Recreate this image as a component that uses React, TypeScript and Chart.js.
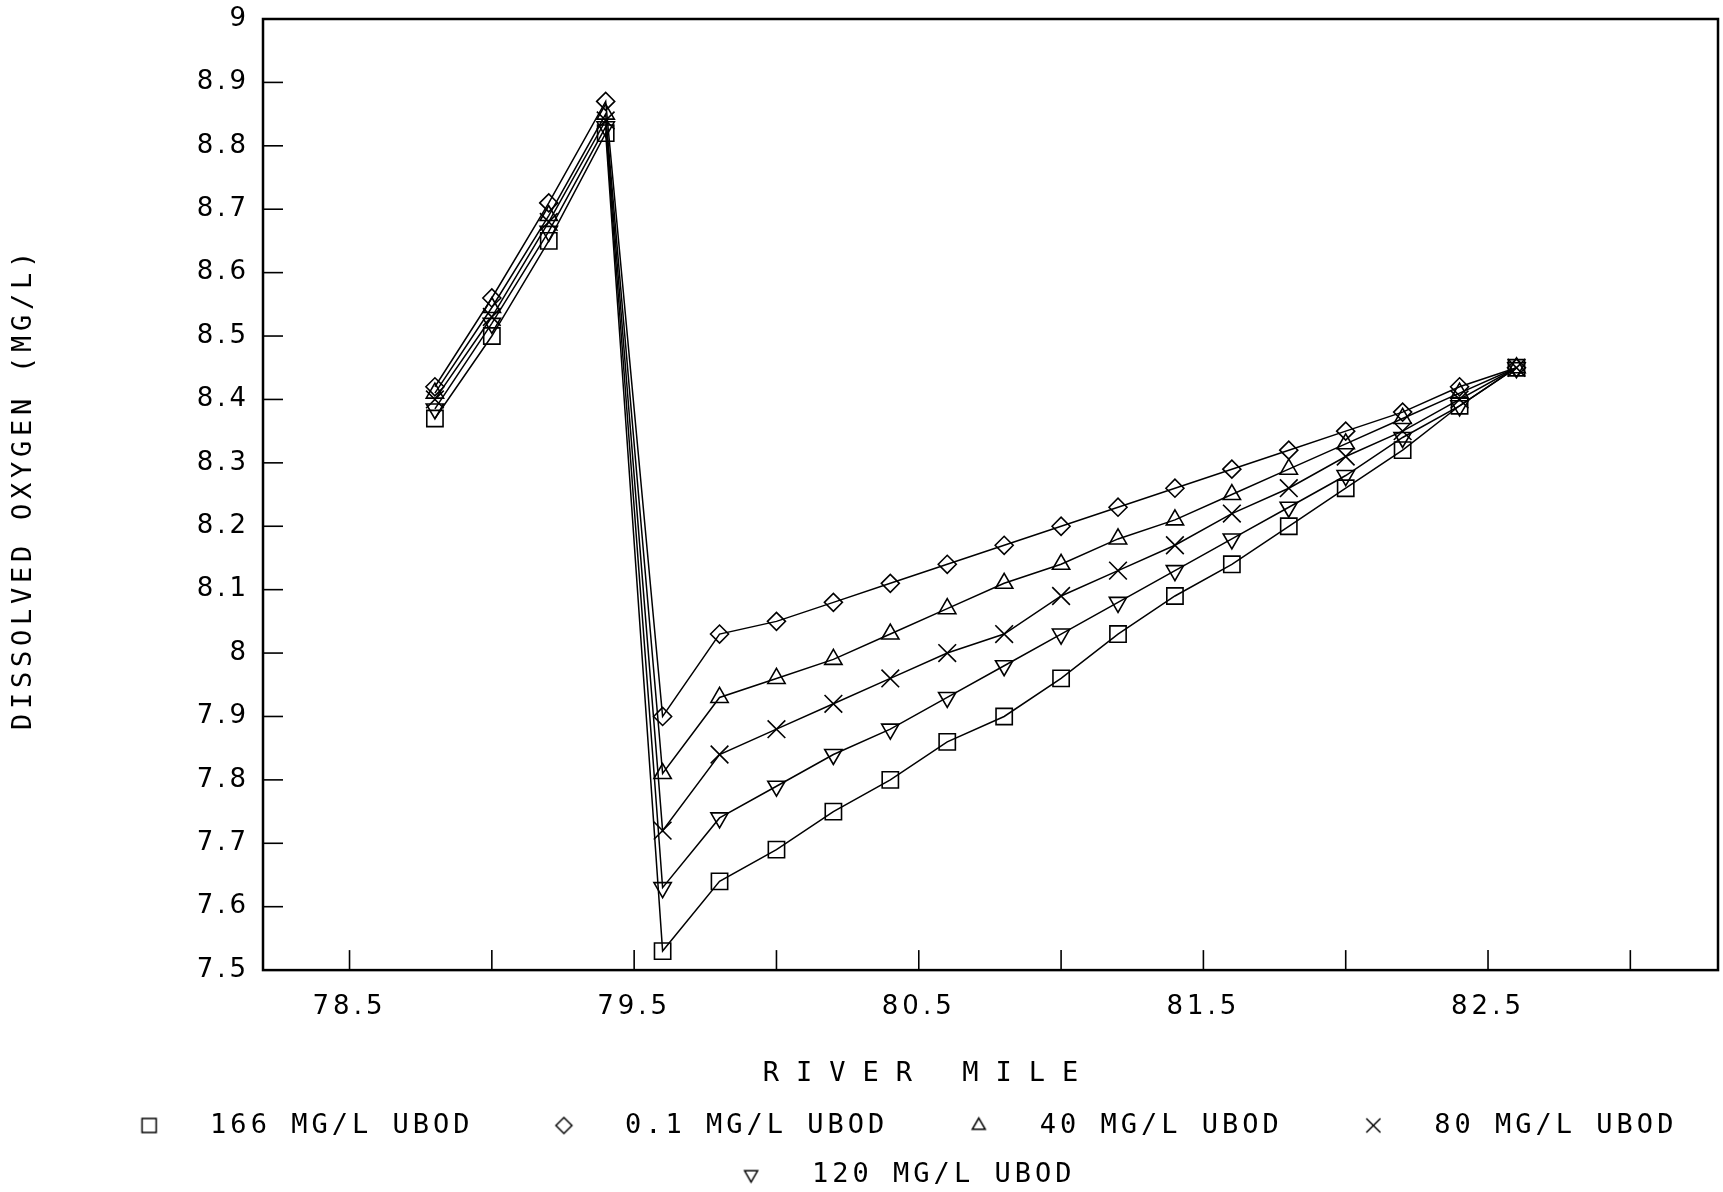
import React, { useEffect, useRef } from 'react';
import { Chart, registerables } from 'chart.js';
import { drawPoint } from 'chart.js/helpers';

Chart.register(...registerables);

// ---------------- data ----------------
const riverMile = [78.8, 79.0, 79.2, 79.4, 79.6, 79.8, 80.0, 80.2, 80.4, 80.6, 80.8, 81.0, 81.2, 81.4, 81.6, 81.8, 82.0, 82.2, 82.4, 82.6];

const do166 = [8.37, 8.50, 8.65, 8.82, 7.53, 7.64, 7.69, 7.75, 7.80, 7.86, 7.90, 7.96, 8.03, 8.09, 8.14, 8.20, 8.26, 8.32, 8.39, 8.45];
const do01 = [8.42, 8.56, 8.71, 8.87, 7.90, 8.03, 8.05, 8.08, 8.11, 8.14, 8.17, 8.20, 8.23, 8.26, 8.29, 8.32, 8.35, 8.38, 8.42, 8.45];
const do40 = [8.41, 8.545, 8.69, 8.85, 7.81, 7.93, 7.96, 7.99, 8.03, 8.07, 8.11, 8.14, 8.18, 8.21, 8.25, 8.29, 8.33, 8.37, 8.41, 8.45];
const do80 = [8.40, 8.53, 8.68, 8.84, 7.72, 7.84, 7.88, 7.92, 7.96, 8.00, 8.03, 8.09, 8.13, 8.17, 8.22, 8.26, 8.31, 8.35, 8.40, 8.45];
const do120 = [8.385, 8.52, 8.665, 8.83, 7.63, 7.74, 7.79, 7.84, 7.88, 7.93, 7.98, 8.03, 8.08, 8.13, 8.18, 8.23, 8.28, 8.34, 8.39, 8.45];

const seriesValues = [do166, do01, do40, do80, do120];
const seriesNames = ['166 MG/L UBOD', '0.1 MG/L UBOD', '40 MG/L UBOD', '80 MG/L UBOD', '120 MG/L UBOD'];

const xTitle = 'RIVER MILE';
const yTitle = 'DISSOLVED OXYGEN (MG/L)';
const xMin = 78.196;
const xMax = 83.308;
const xStep = 0.5;
const yMin = 7.5;
const yMax = 9;
const yStep = 0.1;

// ---------------- styling ----------------
const CANVAS_W = 1723;
const CANVAS_H = 1200;
const MONO = '"DejaVu Sans Mono", monospace';
const SANS = '"DejaVu Sans", sans-serif';
const INK = '#000';

const markers = [
  { style: 'rect', rotation: 0, radius: 11.5, legendRadius: 10 },
  { style: 'rectRot', rotation: 0, radius: 9, legendRadius: 8 },
  { style: 'triangle', rotation: 0, radius: 10, legendRadius: 7.5 },
  { style: 'crossRot', rotation: 0, radius: 12.5, legendRadius: 10 },
  { style: 'triangle', rotation: 180, radius: 10, legendRadius: 7.5 },
];

const LEG_BOX_W = 116;
const LEG_MARK_X = 68.5;
const LEGEND_SHIFT = 20;
const TITLE_SHIFT = 70;
const Y_TITLE_LIFT = 6;
const TICK_LEN = 20;

function makeLegendImage(m: any): HTMLCanvasElement {
  const c = document.createElement('canvas');
  c.width = LEG_BOX_W;
  c.height = 32;
  const ctx = c.getContext('2d') as CanvasRenderingContext2D;
  ctx.strokeStyle = INK;
  ctx.fillStyle = 'rgba(0,0,0,0)';
  ctx.lineWidth = 1.5;
  drawPoint(ctx, { pointStyle: m.style, rotation: m.rotation, radius: m.legendRadius, borderWidth: 1.5 } as any, LEG_MARK_X, 16);
  return c;
}

const plotterPlugin = {
  id: 'plotterLook',
  beforeUpdate(chart: any) {
    chart.ctx.letterSpacing = '4px';
  },
  beforeDraw(chart: any) {
    chart.ctx.letterSpacing = '4px';
  },
  afterLayout(chart: any) {
    const lg = chart.legend;
    if (lg) {
      lg.left += LEGEND_SHIFT;
      lg.right += LEGEND_SHIFT;
    }
    const tb = chart.titleBlock;
    if (tb) {
      tb.left += TITLE_SHIFT;
      tb.right += TITLE_SHIFT;
      if (!tb.__wrapped) {
        const orig = tb.draw.bind(tb);
        tb.draw = (...args: any[]) => {
          const c = chart.ctx as any;
          const prev = c.letterSpacing;
          c.letterSpacing = '17px';
          orig(...args);
          c.letterSpacing = prev;
        };
        tb.__wrapped = true;
      }
    }
    const ys = chart.scales && chart.scales.y;
    if (ys && !ys.__wrapped) {
      const origTitle = ys.drawTitle.bind(ys);
      ys.drawTitle = (...args: any[]) => {
        const c = chart.ctx as any;
        c.save();
        c.letterSpacing = '4.75px';
        c.translate(0, -Y_TITLE_LIFT);
        origTitle(...args);
        c.restore();
      };
      ys.__wrapped = true;
    }
  },
  afterDraw(chart: any) {
    const { ctx, chartArea: a, scales } = chart;
    ctx.save();
    ctx.strokeStyle = INK;
    ctx.lineWidth = 1.6;
    const xs = scales.x;
    xs.ticks.forEach((_t: any, i: number) => {
      const px = xs.getPixelForTick(i);
      ctx.beginPath();
      ctx.moveTo(px, a.bottom);
      ctx.lineTo(px, a.bottom - TICK_LEN);
      ctx.stroke();
    });
    const ys = scales.y;
    ys.ticks.forEach((_t: any, i: number) => {
      const py = ys.getPixelForTick(i);
      ctx.beginPath();
      ctx.moveTo(a.left, py);
      ctx.lineTo(a.left + TICK_LEN, py);
      ctx.stroke();
    });
    ctx.lineWidth = 2.5;
    ctx.strokeRect(a.left, a.top, a.right - a.left, a.bottom - a.top);
    ctx.restore();
  },
};

export default function App() {
  const ref = useRef<HTMLCanvasElement | null>(null);

  useEffect(() => {
    if (!ref.current) return;
    const legendImgs = markers.map(makeLegendImage);

    const datasets = seriesValues.map((vals, i) => ({
      label: seriesNames[i],
      data: riverMile.map((x, j) => ({ x, y: vals[j] })),
      borderColor: INK,
      borderWidth: 1.5,
      pointStyle: markers[i].style,
      pointRotation: markers[i].rotation,
      pointRadius: markers[i].radius,
      pointHoverRadius: markers[i].radius,
      pointBorderColor: INK,
      pointBackgroundColor: 'rgba(0,0,0,0)',
      pointBorderWidth: 1.6,
      fill: false,
      tension: 0,
    }));

    const chart = new Chart(ref.current, {
      type: 'line',
      data: { datasets: datasets as any },
      plugins: [plotterPlugin as any],
      options: {
        responsive: false,
        animation: false,
        devicePixelRatio: 1,
        layout: { autoPadding: false, padding: { top: 19, right: 5, bottom: 2, left: 0 } },
        plugins: {
          tooltip: { enabled: false },
          title: {
            display: true,
            text: xTitle,
            position: 'bottom',
            align: 'center',
            color: INK,
            font: { family: MONO, size: 27, weight: 'normal' },
            padding: { top: 12, bottom: 0 },
            fullSize: true,
            weight: 500,
          } as any,
          legend: {
            display: true,
            position: 'bottom',
            align: 'center',
            labels: {
              usePointStyle: true,
              pointStyleWidth: LEG_BOX_W,
              padding: 22,
              color: INK,
              font: { family: MONO, size: 27 },
              generateLabels: () =>
                seriesNames.map((t, i) => ({
                  text: t,
                  pointStyle: legendImgs[i] as any,
                  rotation: 0,
                  fillStyle: 'rgba(0,0,0,0)',
                  strokeStyle: INK,
                  lineWidth: 0,
                  hidden: false,
                  datasetIndex: i,
                  fontColor: INK,
                })),
            },
          },
        },
        scales: {
          x: {
            type: 'linear',
            min: xMin,
            max: xMax,
            afterFit: (s: any) => {
              s.height = 75.5;
              s.paddingLeft = 0;
              s.paddingRight = 0;
            },
            grid: { display: false, drawTicks: false },
            border: { display: false },
            ticks: {
              stepSize: xStep,
              maxTicksLimit: 20,
              includeBounds: false,
              autoSkip: false,
              maxRotation: 0,
              minRotation: 0,
              padding: 22,
              color: INK,
              font: { family: SANS, size: 26 },
              callback: (v: any) => {
                const n = Number(v);
                return Math.round(n * 10) % 10 === 5 ? n.toFixed(1) : '';
              },
            },
          },
          y: {
            type: 'linear',
            min: yMin,
            max: yMax,
            afterFit: (s: any) => {
              s.width = 263;
              s.paddingTop = 0;
              s.paddingBottom = 0;
            },
            grid: { display: false, drawTicks: false },
            border: { display: false },
            ticks: {
              stepSize: yStep,
              maxTicksLimit: 20,
              autoSkip: false,
              padding: 13,
              color: INK,
              font: { family: SANS, size: 26 },
              callback: (v: any) => String(Number(Number(v).toFixed(1))),
            },
            title: {
              display: true,
              text: yTitle,
              color: INK,
              font: { family: MONO, size: 27 },
              padding: { top: 8, bottom: 0 },
            },
          },
        },
      } as any,
    });

    return () => {
      chart.destroy();
    };
  }, []);

  return (
    <div style={{ position: 'fixed', left: 0, top: 0, width: CANVAS_W, height: CANVAS_H, background: '#fff' }}>
      <canvas ref={ref} width={CANVAS_W} height={CANVAS_H} style={{ display: 'block', width: CANVAS_W, height: CANVAS_H }} />
    </div>
  );
}
